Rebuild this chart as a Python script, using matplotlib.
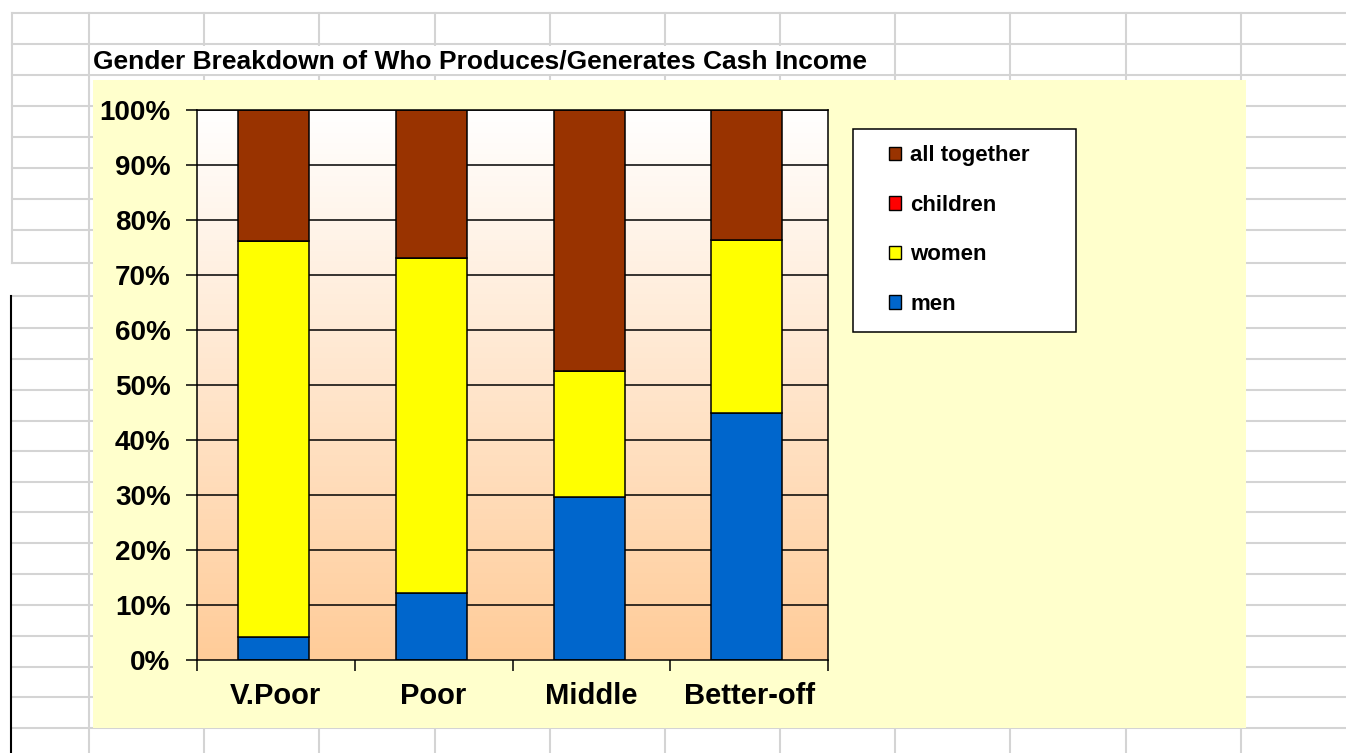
import matplotlib
matplotlib.use("Agg")
import matplotlib.pyplot as plt
import numpy as np
from matplotlib.patches import Patch, Rectangle
from matplotlib.colors import LinearSegmentedColormap

plt.rcParams['font.family'] = ['Liberation Sans', 'DejaVu Sans']
plt.rcParams['font.weight'] = 'bold'

# data (percent of households)
categories = ['V.Poor', 'Poor', 'Middle', 'Better-off']
men = [4.2, 12.2, 29.6, 45.0]
women = [72.0, 60.9, 22.9, 31.4]
children = [0.0, 0.0, 0.0, 0.0]
all_together = [23.8, 26.9, 47.5, 23.6]

series_names = ['men', 'women', 'children', 'all together']
series_colors = ['#0066CC', '#FFFF00', '#FF0000', '#993300']

W, H = 1346, 753
fig = plt.figure(figsize=(W / 100, H / 100), dpi=100)
fig.patch.set_facecolor('white')

# spreadsheet background drawn in pixel coordinates
bg = fig.add_axes([0, 0, 1, 1], zorder=-5)
bg.set_xlim(0, W)
bg.set_ylim(H, 0)
bg.axis('off')
grid_c = '#D4D4D4'
rows = [13, 44, 75, 106, 137, 168, 199, 230, 263, 296, 328, 359, 390, 421,
        451, 482, 512, 543, 574, 605, 636, 667, 697, 728]
cols = [89, 204, 319, 435, 550, 665, 780, 895, 1010, 1126, 1241]
for y in rows:
    if 263 < y < 296:
        bg.plot([89, W], [y, y], color=grid_c, lw=1.5)
    else:
        bg.plot([12, W], [y, y], color=grid_c, lw=1.5)
for x in cols:
    bg.plot([x, x], [13, H], color=grid_c, lw=1.5)
bg.plot([12, 12], [13, 263], color=grid_c, lw=1.5)
bg.plot([11, 11], [296, H], color='black', lw=1.5)
# title cell
bg.add_patch(Rectangle((90, 45.5), 800, 28.5, facecolor='white', edgecolor='none', zorder=3))
bg.text(93, 61, 'Gender Breakdown of Who Produces/Generates Cash Income',
        fontsize=19, fontweight='bold', ha='left', va='center', zorder=4)
# chart area
bg.add_patch(Rectangle((93, 80), 1153, 648, facecolor='#FFFFCC', edgecolor='none', zorder=5))
# legend frame
bg.add_patch(Rectangle((853, 129), 223, 203, facecolor='white', edgecolor='black', lw=1.1, zorder=6))

# plot area
ax = fig.add_axes([197 / W, 1 - 660 / H, (828 - 197) / W, (660 - 110) / H], zorder=1)
x = np.arange(len(categories))
ax.set_xlim(-0.5, len(categories) - 0.5)
ax.set_ylim(0, 100)

cmap = LinearSegmentedColormap.from_list('peach', ['#FFCC99', '#FFFFFF'])
grad = np.linspace(0, 1, 256).reshape(-1, 1)
ax.imshow(grad, cmap=cmap, aspect='auto', origin='lower',
          extent=(-0.5, len(categories) - 0.5, 0, 100), zorder=0)

for v in range(10, 101, 10):
    ax.axhline(v, color='black', lw=1.1, zorder=1)

bottom = np.zeros(len(categories))
for name, vals, col in zip(series_names, [men, women, children, all_together], series_colors):
    ax.bar(x - 0.015, vals, width=0.45, bottom=bottom, color=col, edgecolor='black',
           linewidth=1.1, zorder=2)
    bottom += np.array(vals)

for s in ax.spines.values():
    s.set_color('black')
    s.set_linewidth(1.1)

ax.set_yticks(range(0, 101, 10))
ax.set_yticklabels([f'{v}%' for v in range(0, 101, 10)], fontsize=20, fontweight='bold')
ax.tick_params(axis='y', direction='out', length=8, width=1.1, pad=11)
ax.set_xticks(x)
ax.set_xticklabels(categories, fontsize=21, fontweight='bold')
ax.set_xticks(np.arange(-0.5, len(categories)), minor=True)
ax.tick_params(axis='x', which='major', length=0, pad=16)
ax.tick_params(axis='x', which='minor', direction='out', length=8, width=1.1)

handles = [Patch(facecolor=c, edgecolor='black', lw=1.0) for c in series_colors][::-1]
labels = series_names[::-1]
leg = fig.legend(handles, labels, loc='center left',
                 bbox_to_anchor=(869 / W, 1 - 230 / H), frameon=False,
                 prop={'size': 16, 'weight': 'bold'}, handlelength=0.55,
                 handleheight=0.55, handletextpad=0.4, labelspacing=1.28)
leg.set_zorder(10)

fig.savefig('out.png', dpi=100)
